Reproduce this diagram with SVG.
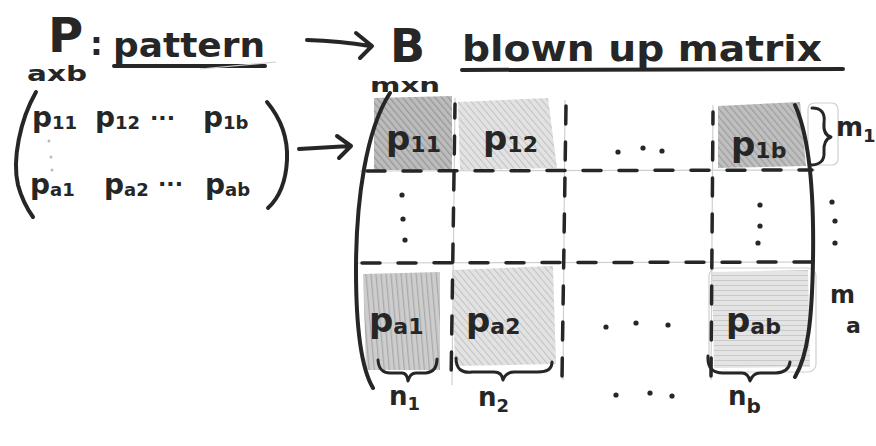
<svg xmlns="http://www.w3.org/2000/svg" width="876" height="446" viewBox="0 0 876 446">
  <style>
    .ink{fill:none;stroke:#262626;stroke-width:4;stroke-linecap:round;stroke-linejoin:round}
    .thin{fill:none;stroke:#262626;stroke-width:3;stroke-linecap:round;stroke-linejoin:round}
    .dash{fill:none;stroke:#262626;stroke-width:3.5;stroke-linecap:round;stroke-dasharray:18 18}
    .pencil{fill:none;stroke:#cfcfcf;stroke-width:1.2}
    .t{font-family:"DejaVu Sans","Liberation Sans",sans-serif;font-weight:bold;fill:#262626}
    .dot{fill:#262626}
  </style>
  <defs>
    <pattern id="hatchDark" width="5" height="5" patternUnits="userSpaceOnUse" patternTransform="rotate(-40)">
      <rect width="5" height="5" fill="#b4b4b4"/>
      <line x1="0" y1="0" x2="0" y2="5" stroke="#8c8c8c" stroke-width="2.5"/>
    </pattern>
    <pattern id="hatchLight" width="5" height="5" patternUnits="userSpaceOnUse" patternTransform="rotate(-40)">
      <rect width="5" height="5" fill="#e2e2e2"/>
      <line x1="0" y1="0" x2="0" y2="5" stroke="#c2c2c2" stroke-width="2"/>
    </pattern>
    <pattern id="hatchVert" width="5" height="5" patternUnits="userSpaceOnUse" patternTransform="rotate(-5)">
      <rect width="5" height="5" fill="#cdcdcd"/>
      <line x1="0" y1="0" x2="0" y2="5" stroke="#a9a9a9" stroke-width="2.5"/>
    </pattern>
    <pattern id="hatchHoriz" width="5" height="5" patternUnits="userSpaceOnUse">
      <rect width="5" height="5" fill="#e4e4e4"/>
      <line x1="0" y1="0" x2="5" y2="0" stroke="#c9c9c9" stroke-width="2"/>
    </pattern>
  </defs>

  <rect width="876" height="446" fill="#ffffff"/>

  <!-- heading: P : pattern  ->  B  blown up matrix -->
  <g id="heading">
    <text class="t" x="48" y="52" font-size="48" font-weight="normal">P</text>
    <text class="t" x="27" y="81" font-size="21" textLength="60" lengthAdjust="spacingAndGlyphs">axb</text>
    <text class="t" x="90" y="55" font-size="32">:</text>
    <text class="t" x="113" y="57" font-size="34" textLength="152" lengthAdjust="spacingAndGlyphs">pattern</text>
    <path class="ink" d="M114,66 L265,66"/>
    <path class="pencil" d="M200,69 L276,62"/>
    <text class="t" x="390" y="62" font-size="46" font-weight="normal">B</text>
    <text class="t" x="370" y="92" font-size="20" textLength="70" lengthAdjust="spacingAndGlyphs">mxn</text>
    <text class="t" x="462" y="61" font-size="36" textLength="360" lengthAdjust="spacingAndGlyphs">blown up matrix</text>
    <path class="ink" d="M462,70 L843,69"/>
  </g>

  <!-- connectors -->
  <g id="connectors">
    <path class="ink" d="M307,40 Q340,41 370,46 M356,33 L372,46 L360,58"/>
    <path class="ink" d="M299,149 L350,146 M337,136 L351,146 L339,158"/>
  </g>

  <!-- pattern matrix P -->
  <g id="pattern-matrix">
    <path class="ink" d="M36,92 C20,120 12,160 18,185 C22,200 28,210 33,217"/>
    <path class="ink" d="M267,102 C282,120 288,140 287,160 C286,180 280,197 268,208"/>
    <text class="t" x="32" y="127" font-size="28">p<tspan font-size="18" dy="2">11</tspan></text>
    <text class="t" x="95" y="127" font-size="28">p<tspan font-size="18" dy="2">12</tspan></text>
    <text class="t" x="150" y="125" font-size="22">···</text>
    <text class="t" x="203" y="127" font-size="28">p<tspan font-size="18" dy="2">1b</tspan></text>
    <circle cx="49" cy="141" r="1.5" fill="#bbb"/>
    <circle cx="51" cy="157" r="1.5" fill="#bbb"/>
    <circle cx="52" cy="170" r="1.5" fill="#bbb"/>
    <text class="t" x="30" y="194" font-size="28">p<tspan font-size="18" dy="2">a1</tspan></text>
    <text class="t" x="104" y="194" font-size="28">p<tspan font-size="18" dy="2">a2</tspan></text>
    <text class="t" x="158" y="191" font-size="22">···</text>
    <text class="t" x="205" y="194" font-size="28">p<tspan font-size="18" dy="2">ab</tspan></text>
  </g>

  <!-- blown up matrix B -->
  <g id="blocks">
    <path d="M374,98 L452,96 L452,170 L374,170 Z" fill="url(#hatchDark)" opacity="0.9"/>
    <path d="M458,102 L548,98 L557,168 L460,170 Z" fill="url(#hatchLight)"/>
    <path d="M718,106 L800,102 L806,166 L718,168 Z" fill="url(#hatchDark)" opacity="0.85"/>
    <rect x="808" y="103" width="30" height="62" rx="6" class="pencil"/>
    <path d="M363,274 L440,272 L440,370 L366,370 Z" fill="url(#hatchVert)"/>
    <path d="M452,270 L553,266 L556,364 L455,366 Z" fill="url(#hatchLight)"/>
    <path d="M712,272 L808,270 L810,367 L714,368 Z" fill="url(#hatchHoriz)"/>
    <rect x="709" y="268" width="107" height="104" rx="8" class="pencil"/>
  </g>

  <g id="grid">
    <path class="pencil" d="M360,171 L815,170 M358,263 L815,262 M455,98 L452,385 M565,100 L563,380 M713,105 L711,380"/>
    <path class="dash" d="M367,171 L812,170"/>
    <path class="dash" d="M362,263 L812,262"/>
    <path class="dash" d="M455,104 L451,386" stroke-dashoffset="4"/>
    <path class="dash" d="M566,106 L562,378"/>
    <path class="dash" d="M713,112 L711,378" stroke-dashoffset="6"/>
  </g>

  <g id="brackets">
    <path class="ink" d="M390,93 C366,130 356,200 356,270 C356,330 361,368 373,388"/>
    <path class="ink" d="M795,105 C811,140 814,200 813,260 C812,320 808,355 795,377"/>
  </g>

  <g id="cell-labels">
    <text class="t" x="386" y="150" font-size="34">p<tspan font-size="22" dy="2">11</tspan></text>
    <text class="t" x="483" y="150" font-size="34">p<tspan font-size="22" dy="2">12</tspan></text>
    <text class="t" x="731" y="156" font-size="34">p<tspan font-size="22" dy="2">1b</tspan></text>
    <text class="t" x="369" y="332" font-size="34">p<tspan font-size="22" dy="2">a1</tspan></text>
    <text class="t" x="466" y="332" font-size="34">p<tspan font-size="22" dy="2">a2</tspan></text>
    <text class="t" x="726" y="332" font-size="34">p<tspan font-size="22" dy="2">ab</tspan></text>
  </g>

  <g id="ellipses">
    <circle class="dot" cx="618" cy="152" r="2.6"/>
    <circle class="dot" cx="643" cy="148" r="2.6"/>
    <circle class="dot" cx="662" cy="151" r="2.6"/>
    <circle class="dot" cx="402" cy="195" r="2.6"/>
    <circle class="dot" cx="403" cy="219" r="2.6"/>
    <circle class="dot" cx="405" cy="240" r="2.6"/>
    <circle class="dot" cx="760" cy="205" r="2.6"/>
    <circle class="dot" cx="760" cy="226" r="2.6"/>
    <circle class="dot" cx="758" cy="243" r="2.6"/>
    <circle class="dot" cx="832" cy="202" r="2.6"/>
    <circle class="dot" cx="835" cy="221" r="2.6"/>
    <circle class="dot" cx="835" cy="243" r="2.6"/>
    <circle class="dot" cx="606" cy="327" r="2.6"/>
    <circle class="dot" cx="636" cy="323" r="2.6"/>
    <circle class="dot" cx="668" cy="325" r="2.6"/>
    <circle class="dot" cx="616" cy="395" r="2.6"/>
    <circle class="dot" cx="650" cy="393" r="2.6"/>
    <circle class="dot" cx="672" cy="396" r="2.6"/>
  </g>

  <!-- block sizes m1 ... ma, n1 ... nb -->
  <g id="row-sizes">
    <path class="thin" d="M812,108 Q826,108 824,123 Q823,135 831,137 Q823,140 824,152 Q825,165 810,165"/>
    <text class="t" x="836" y="136" font-size="26">m<tspan font-size="18" dy="6">1</tspan></text>
    <text class="t" x="830" y="303" font-size="24">m</text>
    <text class="t" x="846" y="333" font-size="22">a</text>
  </g>

  <g id="col-sizes">
    <path class="thin" d="M378,360 Q379,374 392,373 L402,373 Q407,373 408,381 Q410,373 416,373 L426,373 Q437,372 437,359"/>
    <path class="thin" d="M456,358 Q456,374 472,372 L494,372 Q502,372 503,380 Q506,372 514,372 L538,372 Q552,372 552,362"/>
    <path class="thin" d="M708,356 Q707,373 723,373 L742,373 Q748,373 750,381 Q753,373 760,373 L776,373 Q789,372 790,362"/>
    <text class="t" x="389" y="405" font-size="26">n<tspan font-size="18" dy="5">1</tspan></text>
    <text class="t" x="478" y="406" font-size="26">n<tspan font-size="18" dy="6">2</tspan></text>
    <text class="t" x="728" y="405" font-size="26">n<tspan font-size="20" dy="8">b</tspan></text>
  </g>
</svg>
